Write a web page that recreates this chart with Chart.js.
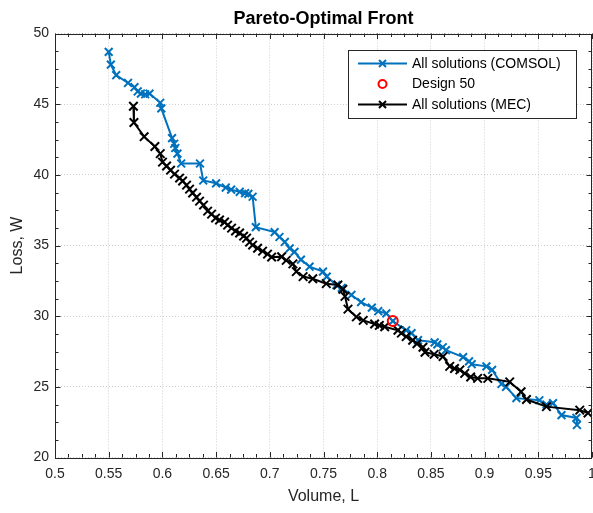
<!DOCTYPE html>
<html>
<head>
<meta charset="utf-8">
<script src="https://cdn.jsdelivr.net/npm/chart.js@4.4.1/dist/chart.umd.min.js"></script>
<style>
  html, body { margin: 0; padding: 0; background: #fff; }
  #wrap { width: 593px; height: 513px; }
</style>
</head>
<body>
<div id="wrap"><canvas id="paretoChart"></canvas></div>
<script>
// Pareto front data
const seriesLabels = ['All solutions (COMSOL)', 'Design 50', 'All solutions (MEC)'];

const comsolVolume = [0.550, 0.552, 0.557, 0.568, 0.574, 0.577, 0.580, 0.584, 0.588, 0.598, 0.599,
    0.609, 0.611, 0.612, 0.614, 0.6175, 0.635, 0.638, 0.650, 0.659, 0.664, 0.672, 0.677, 0.680, 0.684,
    0.687, 0.7045, 0.709, 0.714, 0.7185, 0.723, 0.729, 0.737, 0.7495, 0.753, 0.762, 0.767, 0.776,
    0.785, 0.795, 0.801, 0.8085, 0.8145, 0.827, 0.832, 0.838, 0.8535, 0.856, 0.861, 0.864, 0.880,
    0.8855, 0.888, 0.9017, 0.907, 0.9157, 0.920, 0.9296, 0.951, 0.9576, 0.9637, 0.9716, 0.9855, 0.986];
const comsolLoss = [48.7, 47.8, 47.05, 46.5, 46.2, 45.9, 45.75, 45.7, 45.75, 45.1, 44.7,
    42.6, 42.2, 41.9, 41.5, 40.8, 40.8, 39.6, 39.4, 39.1, 38.95, 38.8, 38.7, 38.65, 38.45,
    36.3, 35.95, 35.6, 35.25, 34.8, 34.55, 34.0, 33.5, 33.15, 32.8, 32.2, 32.0, 31.5,
    31.0, 30.6, 30.35, 30.2, 29.65, 29.0, 28.8, 28.3, 28.15, 28.0, 27.8, 27.6, 27.1,
    26.8, 26.6, 26.45, 26.2, 25.2, 25.0, 24.2, 24.05, 23.75, 23.85, 23.0, 22.8, 22.3];

const mecVolume = [0.573, 0.5735, 0.583, 0.593, 0.598, 0.6001, 0.6039, 0.6076, 0.6113, 0.616,
    0.6188, 0.6225, 0.6253, 0.6281, 0.6318, 0.6346, 0.6383, 0.6421, 0.6458, 0.6495, 0.6532, 0.6579,
    0.6607, 0.6644, 0.6681, 0.6719, 0.6756, 0.6784, 0.6812, 0.684, 0.6886, 0.6933, 0.6979, 0.7017,
    0.711, 0.7153, 0.7215, 0.7247, 0.731, 0.740, 0.7526, 0.7634, 0.768, 0.770, 0.7728, 0.7806,
    0.787, 0.7976, 0.802, 0.807, 0.8193, 0.8225, 0.827, 0.833, 0.837, 0.8426, 0.8445, 0.853,
    0.8613, 0.8675, 0.872, 0.877, 0.8815, 0.887, 0.8935, 0.903, 0.9234, 0.934, 0.939, 0.9576,
    0.9886, 0.9963];
const mecLoss = [44.85, 43.7, 42.7, 42.0, 41.5, 40.9, 40.62, 40.33, 40.05, 39.77,
    39.56, 39.27, 38.99, 38.71, 38.42, 38.14, 37.86, 37.43, 37.22, 36.94, 36.8, 36.66,
    36.44, 36.23, 36.02, 35.88, 35.66, 35.52, 35.24, 35.03, 34.81, 34.6, 34.39, 34.18,
    34.2, 33.95, 33.7, 33.15, 32.8, 32.65, 32.3, 32.2, 31.9, 31.4, 30.5, 29.95,
    29.7, 29.45, 29.35, 29.25, 29.0, 28.8, 28.55, 28.3, 28.05, 27.8, 27.45, 27.3,
    27.15, 26.45, 26.3, 26.2, 25.95, 25.7, 25.6, 25.6, 25.35, 24.65, 24.1, 23.6,
    23.35, 23.15];

const designVolume = [0.8145];
const designLoss = [29.65];

const xTickLabels = ['0.5', '0.55', '0.6', '0.65', '0.7', '0.75', '0.8', '0.85', '0.9', '0.95', '1'];
const yTickLabels = ['20', '25', '30', '35', '40', '45', '50'];

const AXIS_COLOR = '#262626';
const FONT = "'Liberation Sans', Arial, Helvetica, sans-serif";

function toPoints(xs, ys) {
    return xs.map((x, i) => ({x: x, y: ys[i]}));
}

// box + inward ticks like MATLAB, drawn over the data
const framePlugin = {
    id: 'frame',
    afterDatasetsDraw(chart) {
        const {ctx, chartArea: a, scales} = chart;
        const xs = scales.x, ys = scales.y;
        ctx.save();
        ctx.strokeStyle = AXIS_COLOR;
        ctx.lineWidth = 1;
        ctx.beginPath();
        for (let i = 0; i <= 40; i++) {
            const px = Math.round(xs.getPixelForValue(0.5 + i * 0.0125)) + 0.5;
            const len = i % 4 === 0 ? 5.5 : 3.5;
            ctx.moveTo(px, a.bottom); ctx.lineTo(px, a.bottom - len);
            ctx.moveTo(px, a.top); ctx.lineTo(px, a.top + len);
        }
        for (let i = 0; i <= 24; i++) {
            const py = Math.round(ys.getPixelForValue(20 + i * 1.25)) + 0.5;
            const len = i % 4 === 0 ? 5.5 : 3.5;
            ctx.moveTo(a.left, py); ctx.lineTo(a.left + len, py);
            ctx.moveTo(a.right, py); ctx.lineTo(a.right - len, py);
        }
        ctx.stroke();
        ctx.strokeRect(Math.round(a.left) + 0.5, Math.round(a.top) + 0.5,
            Math.round(a.right - a.left) - 1, Math.round(a.bottom - a.top));
        ctx.restore();
    },
    afterDraw(chart) {
        // legend box, top right inside the axes
        const ctx = chart.ctx;
        const box = {x: 348, y: 50, w: 228, h: 68};
        const rows = [63.5, 84, 104.5];
        ctx.save();
        ctx.fillStyle = '#fff';
        ctx.fillRect(box.x, box.y, box.w, box.h);
        ctx.strokeStyle = AXIS_COLOR;
        ctx.lineWidth = 1;
        ctx.strokeRect(box.x + 0.5, box.y + 0.5, box.w, box.h);
        ctx.font = '14px ' + FONT;
        ctx.textBaseline = 'middle';
        ctx.textAlign = 'left';
        chart.data.datasets.forEach((ds, i) => {
            const y = rows[i];
            const mx = 382.5;
            if (ds.showLine) {
                ctx.strokeStyle = ds.borderColor;
                ctx.lineWidth = 2;
                ctx.beginPath();
                ctx.moveTo(358, y); ctx.lineTo(407, y);
                ctx.stroke();
                ctx.beginPath();
                ctx.moveTo(mx - 3.5, y - 3.5); ctx.lineTo(mx + 3.5, y + 3.5);
                ctx.moveTo(mx - 3.5, y + 3.5); ctx.lineTo(mx + 3.5, y - 3.5);
                ctx.stroke();
            } else {
                ctx.strokeStyle = ds.pointBorderColor;
                ctx.lineWidth = 2;
                ctx.beginPath();
                ctx.arc(mx, y, 4, 0, Math.PI * 2);
                ctx.stroke();
            }
            ctx.fillStyle = '#000';
            ctx.fillText(ds.label, 412, y + 0.5);
        });
        ctx.restore();
    }
};

const ctx = document.getElementById('paretoChart');
const paretoChart = new Chart(ctx, {
    type: 'scatter',
    data: {
        datasets: [{
            label: seriesLabels[0],
            data: toPoints(comsolVolume, comsolLoss),
            showLine: true,
            borderColor: '#0072BD',
            borderWidth: 2,
            pointStyle: 'crossRot',
            pointRadius: 5.5,
            pointBorderWidth: 2,
            pointBorderColor: '#0072BD',
            order: 2
        }, {
            label: seriesLabels[1],
            data: toPoints(designVolume, designLoss),
            showLine: false,
            pointStyle: 'circle',
            pointRadius: 5,
            pointBorderWidth: 2,
            pointBorderColor: '#FF0000',
            pointBackgroundColor: 'rgba(0,0,0,0)',
            order: 0
        }, {
            label: seriesLabels[2],
            data: toPoints(mecVolume, mecLoss),
            showLine: true,
            borderColor: '#000000',
            borderWidth: 2,
            pointStyle: 'crossRot',
            pointRadius: 6,
            pointBorderWidth: 2,
            pointBorderColor: '#000000',
            order: 1
        }]
    },
    options: {
        responsive: true,
        maintainAspectRatio: false,
        animation: false,
        layout: { autoPadding: false, padding: { right: 1 } },
        scales: {
            x: {
                type: 'linear',
                min: 0.5,
                max: 1,
                afterFit(scale) {
                    scale.height = 55.5;
                    scale.paddingLeft = 0;
                    scale.paddingRight = 0;
                },
                ticks: {
                    stepSize: 0.05,
                    autoSkip: false,
                    maxRotation: 0,
                    padding: 8,
                    color: AXIS_COLOR,
                    font: { family: FONT, size: 14 },
                    callback: (v, i) => xTickLabels[i]
                },
                grid: { color: 'rgba(38,38,38,0.22)', drawTicks: false, borderDash: [1, 2] },
                border: { display: false, dash: [1, 2] },
                title: {
                    display: true,
                    text: 'Volume, L',
                    color: AXIS_COLOR,
                    font: { family: FONT, size: 16 },
                    padding: { top: 0, bottom: 6.5 }
                }
            },
            y: {
                type: 'linear',
                min: 20,
                max: 50,
                afterFit(scale) {
                    scale.width = 55;
                    scale.paddingTop = 0;
                    scale.paddingBottom = 0;
                },
                ticks: {
                    stepSize: 5,
                    padding: 6,
                    color: AXIS_COLOR,
                    font: { family: FONT, size: 14 },
                    callback: (v, i) => yTickLabels[i]
                },
                grid: { color: 'rgba(38,38,38,0.22)', drawTicks: false, borderDash: [1, 2] },
                border: { display: false, dash: [1, 2] },
                title: {
                    display: true,
                    text: 'Loss, W',
                    color: AXIS_COLOR,
                    font: { family: FONT, size: 16 },
                    padding: { top: 7.5, bottom: 0 }
                }
            }
        },
        plugins: {
            legend: { display: false },
            tooltip: { enabled: false },
            title: {
                display: true,
                fullSize: false,
                text: 'Pareto-Optimal Front',
                color: '#000',
                font: { family: FONT, size: 18, weight: 'bold' },
                padding: { top: 8, bottom: 3.9 }
            }
        }
    },
    plugins: [framePlugin]
});
</script>
</body>
</html>
